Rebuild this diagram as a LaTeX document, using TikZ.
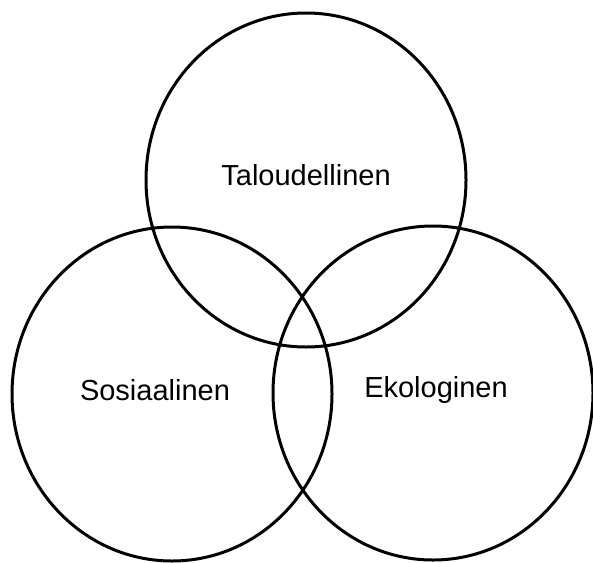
\documentclass[tikz,border=0pt]{standalone}
\usepackage{fontspec}
\setmainfont{Liberation Sans}
\usepackage{tikz}
\usetikzlibrary{shapes.geometric}
\tikzset{every node/.append style={font=\fontsize{29}{34}\selectfont}}

\begin{document}
\begin{tikzpicture}[x=1pt, y=-1pt]
    \useasboundingbox (0,0) rectangle (593,562);
    % the three spheres, slightly taller than wide
    \tikzset{sphere/.style={ellipse, draw, line width=3pt,
        minimum width=320pt, minimum height=334pt, inner sep=0pt}}
    \node[sphere] (talous) at (306,180) {};
    \node[sphere] (sosiaali) at (172,394) {};
    \node[sphere] (ekologia) at (433,393) {};
    % labels, placed on their baselines
    \node[anchor=base] (taloudellinen) at (306,185) {Taloudellinen};
    \node[anchor=base] (sosiaalinen) at (155,400) {Sosiaalinen};
    \node[anchor=base] (ekologinen) at (436,397) {Ekologinen};
\end{tikzpicture}
\end{document}
